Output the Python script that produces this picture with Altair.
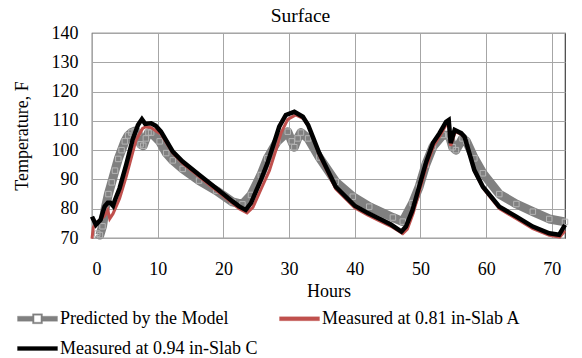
import altair as alt
import pandas as pd

S_MODEL = "Predicted by the Model"
S_A = "Measured at 0.81 in-Slab A"
S_C = "Measured at 0.94 in-Slab C"

model_hours = [0.8, 1.2, 1.6, 2.0, 2.5, 3.0, 3.5, 4.0, 4.5, 5.0, 5.5, 6.0, 6.5, 7.0, 7.4, 7.8,
               8.2, 8.6, 9.0, 10.3, 11.3, 12.3, 13.8, 16.3, 18.9, 21.4, 22.9, 24.2, 25.7, 26.7,
               28.2, 29.8, 30.4, 30.8, 31.3, 31.8, 32.9, 34.6, 37.1, 39.7, 42.2, 45.8, 47.3,
               48.8, 49.8, 50.8, 51.9, 53.4, 54.4, 54.9, 55.4, 56.4, 57.0, 58.2, 59.5, 62.0,
               64.6, 67.1, 69.6, 72.0]
model_temp = [71.5, 71.0, 74.0, 80.0, 85.0, 89.0, 93.0, 97.0, 100.0, 103.0, 105.0, 106.0, 106.5,
              106.0, 102.0, 101.5, 104.0, 106.0, 106.0, 103.0, 99.0, 96.5, 93.6, 89.6, 86.2, 82.3,
              81.5, 84.7, 91.5, 97.2, 103.0, 106.3, 103.0, 101.0, 104.0, 106.0, 104.0, 97.5, 89.2,
              84.1, 80.7, 77.0, 75.6, 81.9, 87.5, 95.0, 101.2, 105.2, 105.0, 101.0, 100.0, 104.0,
              103.0, 97.2, 92.1, 85.0, 81.6, 79.0, 76.5, 75.5]

slab_a_hours = [0.0, 0.2, 0.5, 1.1, 1.9, 2.4, 2.7, 3.2, 4.2, 5.2, 6.7, 7.7, 8.2, 9.0, 9.9, 10.5,
                12.3, 13.8, 16.3, 18.9, 21.4, 22.4, 23.6, 24.5, 25.9, 27.0, 28.0, 28.8, 29.8,
                31.0, 32.2, 33.0, 33.7, 34.6, 37.1, 40.0, 42.0, 44.0, 45.5, 47.3, 48.0, 48.9,
                49.9, 50.9, 52.0, 53.0, 54.0, 54.3, 54.6, 55.3, 56.3, 56.8, 58.3, 59.6, 62.0,
                64.6, 67.1, 69.6, 71.2, 72.0]
slab_a_temp = [69.8, 73.5, 75.0, 76.0, 77.5, 79.5, 76.6, 78.3, 83.5, 90.9, 103.4, 107.4, 108.0,
               107.7, 106.3, 105.5, 99.0, 95.5, 91.0, 86.3, 81.8, 80.0, 78.6, 80.5, 87.5, 93.0,
               100.0, 106.0, 110.5, 112.0, 110.8, 108.0, 104.0, 98.3, 86.8, 80.3, 77.8, 75.6,
               74.0, 71.5, 73.0, 78.5, 86.5, 94.5, 101.5, 105.0, 109.0, 109.5, 101.5, 106.3,
               105.3, 104.0, 92.5, 86.8, 80.0, 76.6, 73.2, 70.9, 70.3, 72.5]

slab_c_hours = [0.0, 0.6, 1.3, 1.9, 2.4, 2.8, 3.2, 3.5, 4.2, 5.2, 6.2, 7.0, 7.6, 8.1, 9.0, 9.7,
                10.5, 12.3, 13.8, 16.3, 18.9, 21.4, 22.4, 23.4, 24.2, 25.7, 26.7, 27.7, 28.5,
                29.5, 30.8, 32.1, 32.9, 33.6, 34.6, 37.1, 40.0, 42.0, 44.0, 45.5, 47.1, 47.8,
                48.8, 49.8, 50.8, 51.9, 52.9, 53.9, 54.3, 54.6, 55.2, 56.2, 56.7, 58.2, 59.5,
                62.0, 64.6, 67.1, 69.6, 71.1, 72.0]
slab_c_temp = [77.3, 74.5, 76.2, 80.7, 82.0, 82.0, 81.0, 83.0, 87.0, 95.0, 103.7, 108.6, 110.6,
               109.0, 109.2, 108.3, 106.3, 99.5, 96.1, 91.6, 87.0, 82.5, 80.8, 79.6, 81.9, 89.8,
               95.5, 102.4, 108.0, 112.0, 113.1, 111.4, 108.6, 104.6, 98.9, 87.5, 81.0, 78.5,
               76.3, 74.6, 72.2, 73.9, 79.6, 87.5, 95.5, 102.4, 105.8, 109.7, 110.3, 102.4,
               106.9, 105.8, 104.6, 93.2, 87.5, 80.7, 77.3, 73.9, 71.6, 71.1, 74.5]

x_ticks = [0, 10, 20, 30, 40, 50, 60, 70]
y_ticks = [70, 80, 90, 100, 110, 120, 130, 140]

series_names = [S_MODEL, S_A, S_C]
series_colors = ["#808080", "#c0504d", "#000000"]

df = pd.concat([
    pd.DataFrame({"hours": model_hours, "temp": model_temp, "series": S_MODEL}),
    pd.DataFrame({"hours": slab_a_hours, "temp": slab_a_temp, "series": S_A}),
    pd.DataFrame({"hours": slab_c_hours, "temp": slab_c_temp, "series": S_C}),
], ignore_index=True)

FONT = "Liberation Serif"

# legend glyphs (unit coordinates, scaled by the legend symbol size)
model_symbol = ("M-1,-0.13H-0.25V0.13H-1Z M0.25,-0.13H1V0.13H0.25Z "
                "M-0.25,-0.25H0.25V0.25H-0.25Z M-0.17,-0.17V0.17H0.17V-0.17Z")
line_symbol = "M-1,-0.1H1V0.1H-1Z"
series_shapes = [model_symbol, line_symbol, line_symbol]

legend = alt.Legend(
    title=None, orient="none", legendX=-75, legendY=265, direction="horizontal",
    columns=2, columnPadding=20, rowPadding=-17, labelFont=FONT, labelFontSize=18,
    labelColor="black", symbolSize=1600, symbolStrokeWidth=0.3, labelOffset=2,
    labelLimit=400, symbolOpacity=1,
)

x = alt.X("hours:Q", scale=alt.Scale(domain=[0, 72], nice=False),
          axis=alt.Axis(values=x_ticks, title="Hours", ticks=False, domain=False,
                        labelPadding=22, titlePadding=4, gridColor="#a6a6a6"))
y = alt.Y("temp:Q", scale=alt.Scale(domain=[70, 140], nice=False, zero=False),
          axis=alt.Axis(values=y_ticks, title="Temperature,  F", ticks=False, domain=False,
                        labelPadding=14, titlePadding=20, gridColor="#a6a6a6"))
color = alt.Color("series:N", scale=alt.Scale(domain=series_names, range=series_colors),
                  legend=legend)
shape = alt.Shape("series:N", scale=alt.Scale(domain=series_names, range=series_shapes),
                  legend=legend)

base = alt.Chart(df)
model_only = base.transform_filter(alt.datum.series == S_MODEL)
model_line = model_only.mark_line(strokeWidth=9, strokeJoin="round").encode(
    x=x, y=y, color=color)
model_marks = model_only.mark_point(shape="square", filled=False, size=30, strokeWidth=1,
                                    color="#b4b4b4", opacity=1).encode(x=x, y=y)
slab_a_line = base.transform_filter(alt.datum.series == S_A).mark_line(
    strokeWidth=3).encode(x=x, y=y, color=color)
slab_c_line = base.transform_filter(alt.datum.series == S_C).mark_line(
    strokeWidth=4.5).encode(x=x, y=y, color=color)
# carries the legend glyphs only (no rows pass the filter)
legend_layer = base.transform_filter(alt.datum.hours < -100).mark_point(
    filled=True, opacity=1).encode(x=x, y=y, color=color, shape=shape)

chart = alt.layer(model_line, model_marks, slab_a_line, slab_c_line, legend_layer).properties(
    width=473, height=205, background="white",
    title=alt.TitleParams("Surface", font=FONT, fontSize=19.5, fontWeight="normal",
                          color="black", anchor="middle", offset=10, frame="group",
                          baseline="top", dy=12, dx=-28),
    autosize=alt.AutoSizeParams(type="none"),
    padding={"left": 84, "top": 25, "right": 9, "bottom": 120},
).configure_axis(
    labelFont=FONT, labelFontSize=18, labelColor="black",
    titleFont=FONT, titleFontSize=18, titleColor="black", titleFontWeight="normal",
).configure_view(stroke="#404040", strokeWidth=1.2)

chart.save("out.html", embed_options={"renderer": "svg", "actions": False})
